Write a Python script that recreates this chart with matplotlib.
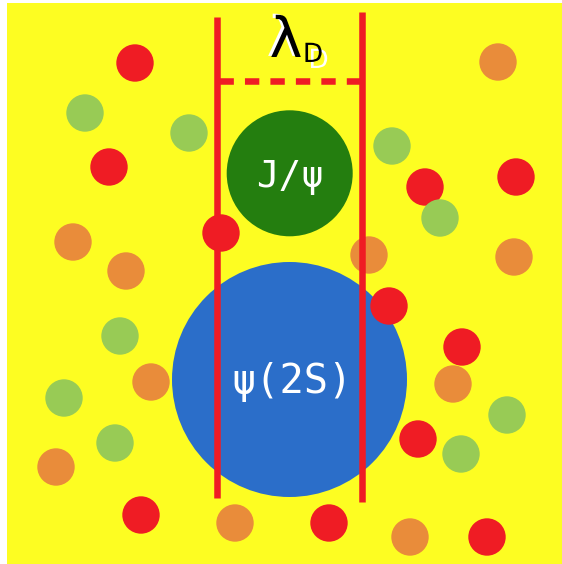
import matplotlib
matplotlib.use('Agg')
import matplotlib.pyplot as plt
from matplotlib.patches import Circle, Rectangle
import matplotlib.patheffects as pe

# ---- data (pixel-space illustration) ----
red_x = [135, 109, 221, 425, 516, 389, 462, 418, 141, 329, 487]
red_y = [63, 167, 233, 187, 177, 306, 347, 439, 515, 523, 537]
orange_x = [498, 73, 126, 369, 514, 151, 453, 56, 235, 410]
orange_y = [62, 242, 271, 255, 257, 382, 384, 467, 523, 537]
green_x = [85, 189, 392, 440, 120, 64, 507, 115, 461]
green_y = [113, 133, 146, 218, 336, 398, 415, 443, 454]
small_r = 18.7

big_labels = ['ψ(2S)', 'J/ψ']
big_x = [289.5, 289.7]
big_y = [379.5, 173.3]
big_r = [117.5, 63]
big_colors = ['#2b6ec9', '#247e0f']

lam_label = 'λ'
sub_label = 'D'

W, H = 562, 564
fig = plt.figure(figsize=(W / 100, H / 100), dpi=100)
fig.patch.set_facecolor('white')
ax = fig.add_axes([0, 0, 1, 1])
ax.set_xlim(0, W)
ax.set_ylim(H, 0)
ax.axis('off')

YELLOW = '#fdfd22'
RED = '#ef1c24'
ORANGE = '#e98c3a'
LGREEN = '#98cb55'

ax.add_patch(Rectangle((7, 3), W - 7, H - 3, facecolor=YELLOW, edgecolor='none', zorder=0))

for x, y, r, c in zip(big_x, big_y, big_r, big_colors):
    ax.add_patch(Circle((x, y), r, facecolor=c, edgecolor='none', zorder=1))

for xs, ys, c, z in [(orange_x, orange_y, ORANGE, 2), (red_x, red_y, RED, 3), (green_x, green_y, LGREEN, 4)]:
    for x, y in zip(xs, ys):
        ax.add_patch(Circle((x, y), small_r, facecolor=c, edgecolor='none', zorder=z))

# Debye-length boundaries
ax.plot([216.7, 216.7], [17, 497.5], color=RED, lw=4.7, solid_capstyle='butt', zorder=5)
ax.plot([362.3, 362.3], [12, 502], color=RED, lw=4.7, solid_capstyle='butt', zorder=5)
ax.plot([219, 360], [81, 81], color=RED, lw=4.7, dashes=(2.2, 1.7), dash_capstyle='butt', zorder=5)

# labels
ax.text(big_x[1], 187, big_labels[1], color='white', fontsize=27, family='DejaVu Sans Mono',
        ha='center', va='baseline', zorder=6)
ax.text(big_x[0] + 2, 393, big_labels[0], color='white', fontsize=29, family='DejaVu Sans Mono',
        ha='center', va='baseline', zorder=6)

ax.text(286, 57, lam_label, color='black', fontsize=40, family='DejaVu Sans', ha='center', va='baseline',
        zorder=7, path_effects=[pe.SimplePatchShadow(offset=(-2.2, 0.8), shadow_rgbFace='white', alpha=1),
                                pe.Normal()])
ax.text(313, 62, sub_label, color='black', fontsize=19, family='DejaVu Sans', ha='center', va='baseline',
        zorder=7, path_effects=[pe.SimplePatchShadow(offset=(4.0, -4.3), shadow_rgbFace='white', alpha=1),
                                pe.Normal()])

fig.savefig('out.png', dpi=100, facecolor='white')
